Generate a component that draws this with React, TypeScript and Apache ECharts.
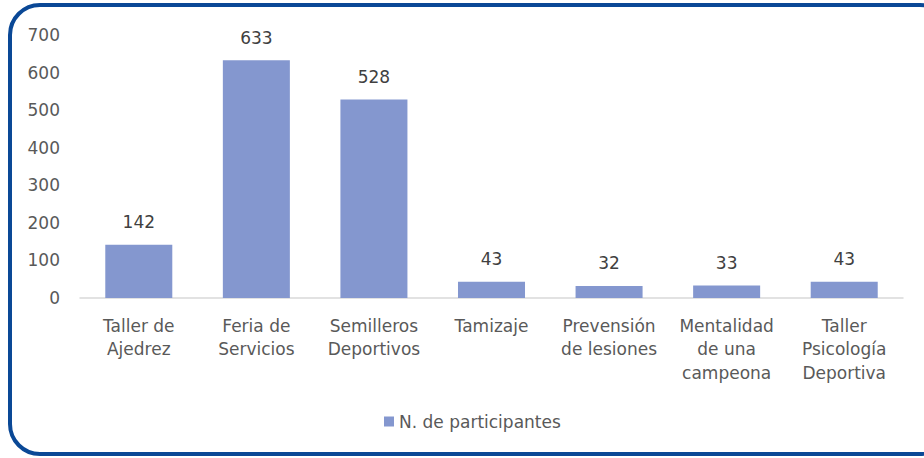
import React, { useEffect, useRef } from "react";
import * as echarts from "echarts";

const categories = [
  "Taller de\nAjedrez",
  "Feria de\nServicios",
  "Semilleros\nDeportivos",
  "Tamizaje",
  "Prevensión\nde lesiones",
  "Mentalidad\nde una\ncampeona",
  "Taller\nPsicología\nDeportiva",
];
const participantes = [142, 633, 528, 43, 32, 33, 43];
const seriesName = "N. de participantes";

export default function App() {
  const ref = useRef<HTMLDivElement>(null);
  useEffect(() => {
    if (!ref.current) return;
    const chart = echarts.init(ref.current, undefined, { renderer: "svg" });
    const font = "'DejaVu Sans', 'Open Sans', sans-serif";
    chart.setOption({
      animation: false,
      backgroundColor: "#ffffff",
      textStyle: { fontFamily: font },
      graphic: [
        {
          type: "rect",
          shape: { x: 10, y: 5, width: 940, height: 449, r: 30 },
          style: { fill: "none", stroke: "#0a4896", lineWidth: 4 },
          z: 10,
        },
      ],
      grid: { left: 80, right: 21, top: 35, bottom: 160, containLabel: false },
      legend: {
        data: [seriesName],
        bottom: 23,
        left: 379,
        itemWidth: 10,
        itemHeight: 10,
        itemGap: 6,
        icon: "rect",
        textStyle: { color: "#595959", fontSize: 17, fontFamily: font },
      },
      xAxis: {
        type: "category",
        data: categories,
        axisLine: { lineStyle: { color: "#d9d9d9", width: 1.5 } },
        axisTick: { show: false },
        axisLabel: {
          color: "#595959",
          fontSize: 17,
          lineHeight: 23.5,
          margin: 16,
          interval: 0,
          fontFamily: font,
        },
      },
      yAxis: {
        type: "value",
        min: 0,
        max: 700,
        interval: 100,
        splitLine: { show: false },
        axisLine: { show: false },
        axisTick: { show: false },
        axisLabel: { color: "#595959", fontSize: 17, margin: 20, fontFamily: font },
      },
      series: [
        {
          name: seriesName,
          type: "bar",
          data: participantes,
          barCategoryGap: "43%",
          itemStyle: { color: "#8497cf" },
          label: {
            show: true,
            position: "top",
            distance: 14,
            color: "#404040",
            fontSize: 17,
            fontFamily: font,
          },
        },
      ],
    });
    return () => chart.dispose();
  }, []);
  return (
    <div
      ref={ref}
      style={{ position: "fixed", left: 0, top: 0, width: 924, height: 458 }}
    />
  );
}
